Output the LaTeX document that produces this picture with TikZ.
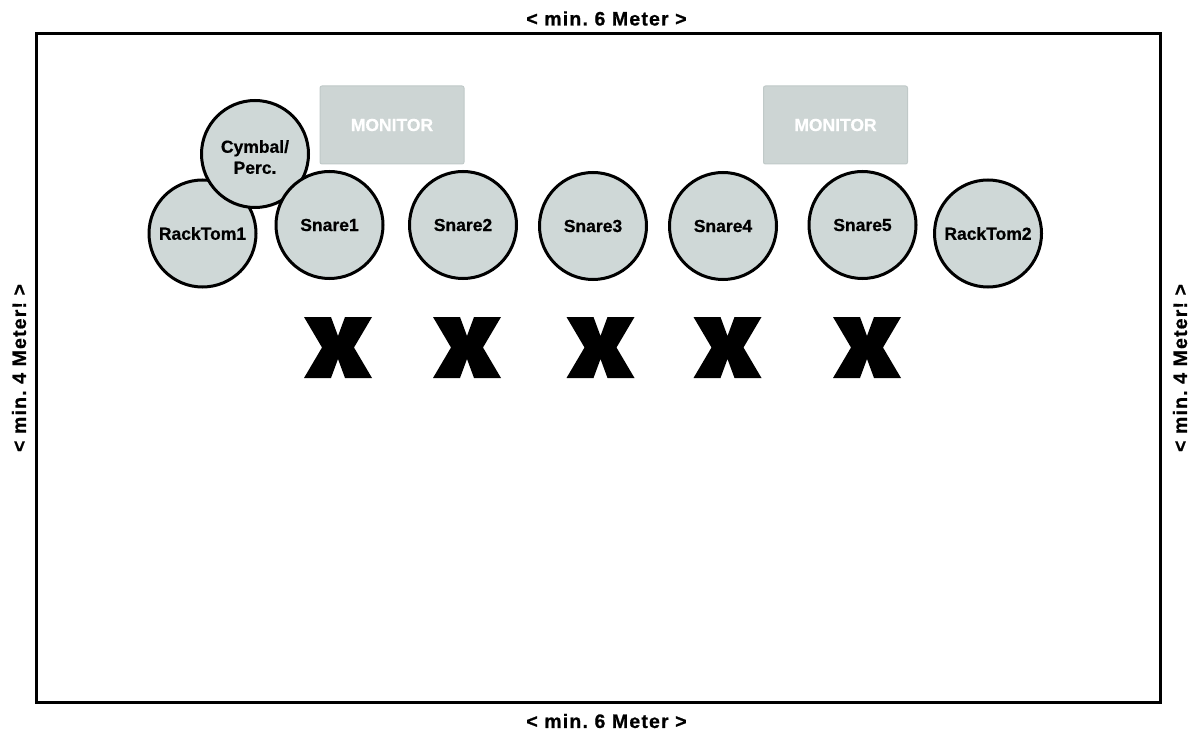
\documentclass[tikz,border=0pt]{standalone}
\usepackage{fontspec}
\setmainfont{Liberation Sans}[BoldFeatures={FakeBold=0.6}]
\newfontfamily\dimfont{Liberation Sans}[LetterSpace=6,BoldFeatures={FakeBold=0.8}]
\frenchspacing
\definecolor{drumgray}{RGB}{207,216,215}
\definecolor{mongray}{RGB}{205,213,212}
\definecolor{monedge}{RGB}{192,201,200}
\begin{document}
\begin{tikzpicture}[x=1pt,y=-1pt,
  drum/.style={circle, draw=black, line width=3pt, fill=drumgray,
    minimum size=107pt, inner sep=0pt, align=center,
    font=\bfseries\fontsize{17.5}{21}\selectfont},
  monitorbox/.style={rectangle, rounded corners=2pt, draw=monedge, line width=1pt,
    fill=mongray, minimum width=144pt, minimum height=78pt, inner sep=0pt,
    text=white, font=\bfseries\fontsize{17.5}{21}\selectfont},
  dimlabel/.style={inner sep=0pt, font=\dimfont\bfseries\fontsize{19.5}{22}\selectfont},
  frame/.style={draw=black, line width=3pt},
  pics/bigx/.style={code={
    \fill[black] (-34,-30.5) -- (-7,-30.5) -- (0,-11.5) -- (7,-30.5) -- (34,-30.5)
      -- (16,0) -- (34,30.5) -- (7,30.5) -- (0,11.5) -- (-7,30.5) -- (-34,30.5)
      -- (-16,0) -- cycle;
  }}
]
\useasboundingbox (0,0) rectangle (1196,735);
\draw[frame] (36.5,34) rectangle (1160.5,702);

\node[dimlabel] (top) at (606.5,18.5) {< min. 6 Meter >};
\node[dimlabel] (bottom) at (606.5,721) {< min. 6 Meter >};
\node[dimlabel, rotate=90] (left) at (19,368) {< min. 4 Meter! >};
\node[dimlabel, rotate=90] (right) at (1180,368) {< min. 4 Meter! >};

\node[monitorbox] (mon1) at (392,125) {MONITOR};
\node[monitorbox] (mon2) at (835.5,125) {MONITOR};

\node[drum] (rt1) at (202.5,233.5) {RackTom1};
\node[drum, label={[align=center, font=\bfseries\fontsize{17.5}{21}\selectfont, yshift=-3pt]center:{Cymbal/\\Perc.}}] (cym) at (255,154) {};
\node[drum] (sn1) at (329.5,225) {Snare1};
\node[drum] (sn2) at (463,225) {Snare2};
\node[drum] (sn3) at (593,226) {Snare3};
\node[drum] (sn4) at (723,226) {Snare4};
\node[drum] (sn5) at (862.5,225) {Snare5};
\node[drum] (rt2) at (988,233.5) {RackTom2};

\pic (x1) at (338,347.5) {bigx};
\pic (x2) at (467,347.5) {bigx};
\pic (x3) at (600.5,347.5) {bigx};
\pic (x4) at (727.5,347.5) {bigx};
\pic (x5) at (867,347.5) {bigx};
\end{tikzpicture}
\end{document}
